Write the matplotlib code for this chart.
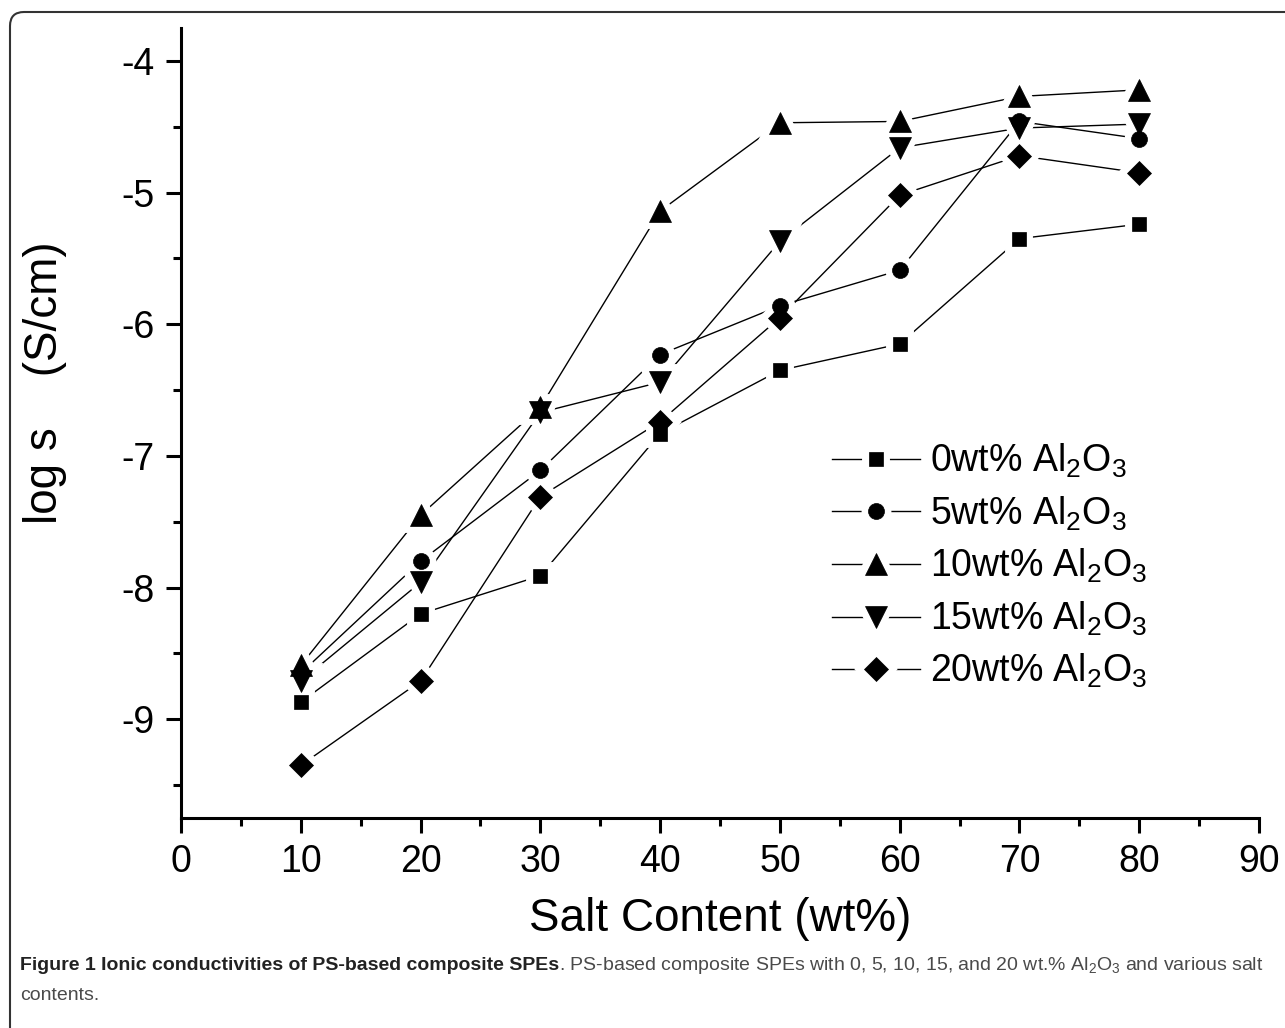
import matplotlib
matplotlib.use("Agg")
import matplotlib.pyplot as plt
from matplotlib.patches import FancyBboxPatch
from matplotlib.transforms import IdentityTransform
from matplotlib.legend_handler import HandlerTuple

plt.rcParams['font.family'] = ['Liberation Sans', 'DejaVu Sans']
plt.rcParams['mathtext.fontset'] = 'custom'
plt.rcParams['mathtext.rm'] = 'Liberation Sans'
plt.rcParams['mathtext.it'] = 'Liberation Sans'

# data
salt = [10, 20, 30, 40, 50, 60, 70, 80]
al0 = [-8.87, -8.20, -7.91, -6.83, -6.35, -6.15, -5.35, -5.24]
al5 = [-8.65, -7.80, -7.11, -6.23, -5.86, -5.59, -4.46, -4.59]
al10 = [-8.59, -7.45, -6.63, -5.14, -4.47, -4.46, -4.27, -4.22]
al15 = [-8.71, -7.96, -6.67, -6.44, -5.37, -4.66, -4.51, -4.48]
al20 = [-9.35, -8.71, -7.31, -6.74, -5.95, -5.02, -4.72, -4.85]

series = [al0, al5, al10, al15, al20]
labels = ['0wt% Al$_2$O$_3$', '5wt% Al$_2$O$_3$', '10wt% Al$_2$O$_3$',
          '15wt% Al$_2$O$_3$', '20wt% Al$_2$O$_3$']
markers = ['s', 'o', '^', 'v', 'D']
sizes = [10, 11.5, 16.5, 16.5, 12.5]

fig = plt.figure(figsize=(12.85, 10.28), dpi=100)
ax = fig.add_axes([0.1409, 0.2043, 0.8389, 0.7685])

handles = []
for y, lab, m, ms in zip(series, labels, markers, sizes):
    ln, = ax.plot(salt, y, '-', color='black', lw=1.0, zorder=1)
    gap, = ax.plot(salt, y, ls='none', marker=m, ms=ms, mfc='white',
                   mec='white', mew=10, zorder=2)
    mk, = ax.plot(salt, y, ls='none', marker=m, ms=ms, mfc='black',
                  mec='black', mew=0.5, zorder=3)
    handles.append((ln, gap, mk))

ax.legend(handles, labels, handler_map={tuple: HandlerTuple(ndivide=1, pad=0)},
          numpoints=1, loc='upper left',
          bbox_to_anchor=(832 / 1285, 1 - 442 / 1028),
          bbox_transform=fig.transFigure, frameon=False, fontsize=27,
          handlelength=2.35, handletextpad=0.25, labelspacing=0.38,
          borderpad=0, borderaxespad=0)

ax.set_xlim(0, 90)
ax.set_ylim(-9.75, -3.75)
ax.set_xticks(range(0, 91, 10))
ax.set_xticks(range(5, 90, 10), minor=True)
ax.set_yticks([-9, -8, -7, -6, -5, -4])
ax.set_yticks([-9.5, -8.5, -7.5, -6.5, -5.5, -4.5], minor=True)
ax.set_yticklabels(['-9', '-8', '-7', '-6', '-5', '-4'])

for s in ['top', 'right']:
    ax.spines[s].set_visible(False)
for s in ['left', 'bottom']:
    ax.spines[s].set_linewidth(2.2)
ax.tick_params(which='major', direction='out', length=11, width=2.2,
               labelsize=27, pad=8)
ax.tick_params(which='minor', direction='out', length=5.5, width=2.2)

ax.set_xlabel('Salt Content (wt%)', fontsize=33, labelpad=12)
fig.text(45 / 1285, 1 - 383 / 1028, 'log s    (S/cm)', rotation=90,
         fontsize=33, ha='center', va='center')

# outer frame of the figure panel
frame = FancyBboxPatch((10, -60), 1400, 1028 - 12 + 60,
                       boxstyle='round,pad=0,rounding_size=14',
                       transform=IdentityTransform(), fill=False,
                       edgecolor='#333333', lw=1.5)
fig.add_artist(frame)

# caption
cap_font = ['Liberation Sans Narrow', 'Liberation Sans', 'DejaVu Sans']
fig.canvas.draw()
r = fig.canvas.get_renderer()
t1 = fig.text(20 / 1285, 1 - 966 / 1028,
              'Figure 1 Ionic conductivities of PS-based composite SPEs',
              fontsize=14, fontweight='bold', family=cap_font,
              color='#222222', va='center')
bb = t1.get_window_extent(r)
fig.text(bb.x1 / 1285, 1 - 966 / 1028,
         '. PS-based composite SPEs with 0, 5, 10, 15, and 20 wt.% '
         'Al$_2$O$_3$ and various salt',
         fontsize=14, family=cap_font, color='#4a4a4a', va='center')
fig.text(20 / 1285, 1 - 995 / 1028, 'contents.', fontsize=14,
         family=cap_font, color='#4a4a4a', va='center')

plt.savefig('out.png', dpi=100)
